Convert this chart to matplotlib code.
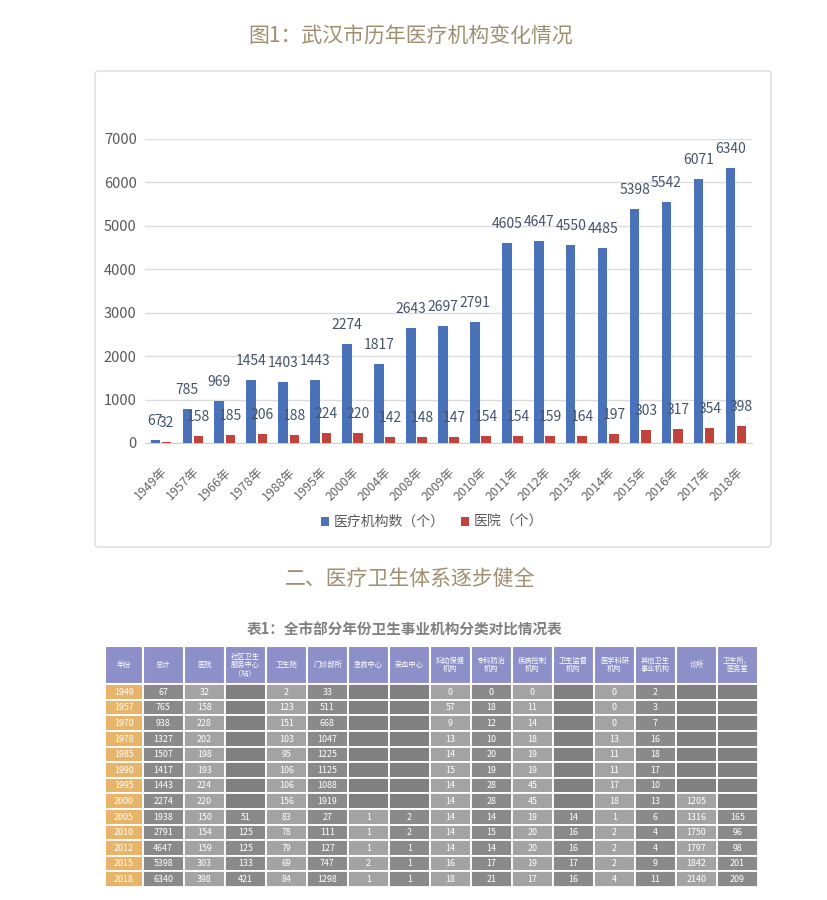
import matplotlib
matplotlib.use("Agg")
import matplotlib.pyplot as plt
from matplotlib.patches import FancyBboxPatch, Rectangle
import numpy as np

plt.rcParams['font.family'] = ['Noto Sans CJK SC', 'DejaVu Sans']

# ---------------- chart data ----------------
years = ['1949年', '1957年', '1966年', '1978年', '1988年', '1995年', '2000年', '2004年',
         '2008年', '2009年', '2010年', '2011年', '2012年', '2013年', '2014年', '2015年',
         '2016年', '2017年', '2018年']
institutions = [67, 785, 969, 1454, 1403, 1443, 2274, 1817, 2643, 2697, 2791, 4605,
                4647, 4550, 4485, 5398, 5542, 6071, 6340]
hospitals = [32, 158, 185, 206, 188, 224, 220, 142, 148, 147, 154, 154, 159, 164, 197,
             303, 317, 354, 398]
series_names = ['医疗机构数（个）', '医院（个）']
yticks = [0, 1000, 2000, 3000, 4000, 5000, 6000, 7000]

# ---------------- table data ----------------
table_header = ['年份', '总计', '医院', '社区卫生\n服务中心\n（站）', '卫生院', '门诊部所',
                '急救中心', '采血中心', '妇幼保健\n机构', '专科防治\n机构', '疾病控制\n机构',
                '卫生监督\n机构', '医学科研\n机构', '其他卫生\n事业机构', '诊所', '卫生所、\n医务室']
table_rows = [
    ['1949', '67', '32', '', '2', '33', '', '', '0', '0', '0', '', '0', '2', '', ''],
    ['1957', '765', '158', '', '123', '511', '', '', '57', '18', '11', '', '0', '3', '', ''],
    ['1970', '938', '228', '', '151', '668', '', '', '9', '12', '14', '', '0', '7', '', ''],
    ['1978', '1327', '202', '', '103', '1047', '', '', '13', '10', '18', '', '13', '16', '', ''],
    ['1985', '1507', '198', '', '95', '1225', '', '', '14', '20', '19', '', '11', '18', '', ''],
    ['1990', '1417', '193', '', '106', '1125', '', '', '15', '19', '19', '', '11', '17', '', ''],
    ['1995', '1443', '224', '', '106', '1088', '', '', '14', '28', '45', '', '17', '10', '', ''],
    ['2000', '2274', '220', '', '156', '1919', '', '', '14', '28', '45', '', '18', '13', '1205', ''],
    ['2005', '1938', '150', '51', '83', '27', '1', '2', '14', '14', '19', '14', '1', '6', '1316', '165'],
    ['2010', '2791', '154', '125', '78', '111', '1', '2', '14', '15', '20', '16', '2', '4', '1750', '96'],
    ['2012', '4647', '159', '125', '79', '127', '1', '1', '14', '14', '20', '16', '2', '4', '1797', '98'],
    ['2015', '5398', '303', '133', '69', '747', '2', '1', '16', '17', '19', '17', '2', '9', '1842', '201'],
    ['2018', '6340', '398', '421', '84', '1298', '1', '1', '18', '21', '17', '16', '4', '11', '2140', '209'],
]

W, H = 828, 900
fig = plt.figure(figsize=(W / 100, H / 100), dpi=100)
fig.patch.set_facecolor('white')

def fx(px):
    return px / W

def fy(py):
    return 1 - py / H

title_color = '#9e8f70'
fig.text(fx(411), fy(37), '图1：武汉市历年医疗机构变化情况', ha='center', va='center',
         fontsize=15, color=title_color)

# chart panel
panel = FancyBboxPatch((fx(95), fy(547)), fx(771) - fx(95), fy(71) - fy(547),
                       boxstyle='round,pad=0,rounding_size=0.004', transform=fig.transFigure,
                       facecolor='white', edgecolor='#e2e2e2', linewidth=1.2, zorder=-10)
fig.patches.append(panel)

ax = fig.add_axes([fx(145), fy(443), fx(752) - fx(145), fy(139) - fy(443)])
ax.set_facecolor('none')
x = np.arange(len(years))
bw = 0.3
off = 0.175
blue = '#4a72b8'
red = '#c0433c'
b1 = ax.bar(x - off, institutions, bw, color=blue, label=series_names[0], zorder=3)
b2 = ax.bar(x + off, hospitals, bw, color=red, label=series_names[1], zorder=3)
ax.set_xlim(-0.5, len(years) - 0.5)
ax.set_ylim(0, 7000)
ax.set_yticks(yticks)
ax.grid(axis='y', color='#dcdcdc', linewidth=1, zorder=0)
for s in ax.spines.values():
    s.set_visible(False)
ax.spines['bottom'].set_visible(True)
ax.spines['bottom'].set_color('#d0d0d0')
ax.tick_params(axis='both', length=0, colors='#595959')
ax.tick_params(axis='y', labelsize=10.5, pad=6)
ax.set_xticks(x)
ax.set_xticklabels(years, rotation=45, ha='right', rotation_mode='anchor', fontsize=9,
                   color='#666666')
ax.tick_params(axis='x', pad=16)

lab_color = '#44546a'
for xi, v in zip(x, institutions):
    ax.annotate(str(v), (xi - off, v), xytext=(0, 12), textcoords='offset pixels',
                ha='center', va='bottom', fontsize=10, color=lab_color, annotation_clip=False)
for xi, v in zip(x, hospitals):
    ax.annotate(str(v), (xi + off, v), xytext=(0, 12), textcoords='offset pixels',
                ha='center', va='bottom', fontsize=10, color=lab_color, annotation_clip=False)

fig.legend(handles=[b1, b2], labels=series_names, loc='center',
           bbox_to_anchor=(fx(432), fy(522)), ncol=2, frameon=False, fontsize=10,
           handlelength=0.6, handleheight=0.6, handletextpad=0.3, columnspacing=1.2,
           labelcolor='#595959')

# section heading
fig.text(fx(410), fy(579), '二、医疗卫生体系逐步健全', ha='center', va='center',
         fontsize=15, color=title_color)

# table title
fig.text(fx(405), fy(630), '表1：全市部分年份卫生事业机构分类对比情况表', ha='center',
         va='center', fontsize=10.5, color='#808080', fontweight='bold')

# table
tax = fig.add_axes([fx(105), fy(887), fx(758) - fx(105), fy(646) - fy(887)])
tax.set_axis_off()
ncol = len(table_header)
nrow = len(table_rows)
col_w = [0.92] + [1.0] * (ncol - 1)
col_x = np.concatenate([[0], np.cumsum(col_w)])
header_h = 2.45
total_h = header_h + nrow
tax.set_xlim(0, col_x[-1])
tax.set_ylim(total_h, 0)

header_color = '#8d8fc8'
year_color = '#e8b46a'
dark = '#8a8a8a'
light = '#a3a3a3'
empty = '#808080'
for j, h in enumerate(table_header):
    tax.add_patch(Rectangle((col_x[j], 0), col_w[j], header_h, facecolor=header_color,
                            edgecolor='white', linewidth=1.5))
    tax.text(col_x[j] + col_w[j] / 2, header_h / 2, h, ha='center', va='center',
             fontsize=5.2, color='white', linespacing=1.1)
for i, row in enumerate(table_rows):
    y0 = header_h + i
    for j, val in enumerate(row):
        if j == 0:
            c = year_color
        elif val == '':
            c = empty
        else:
            c = dark if j % 2 == 1 else light
        tax.add_patch(Rectangle((col_x[j], y0), col_w[j], 1, facecolor=c,
                                edgecolor='white', linewidth=1.3))
        if val:
            tax.text(col_x[j] + col_w[j] / 2, y0 + 0.52, val, ha='center', va='center',
                     fontsize=6.4, color='white')

fig.savefig('out.png', dpi=100)
